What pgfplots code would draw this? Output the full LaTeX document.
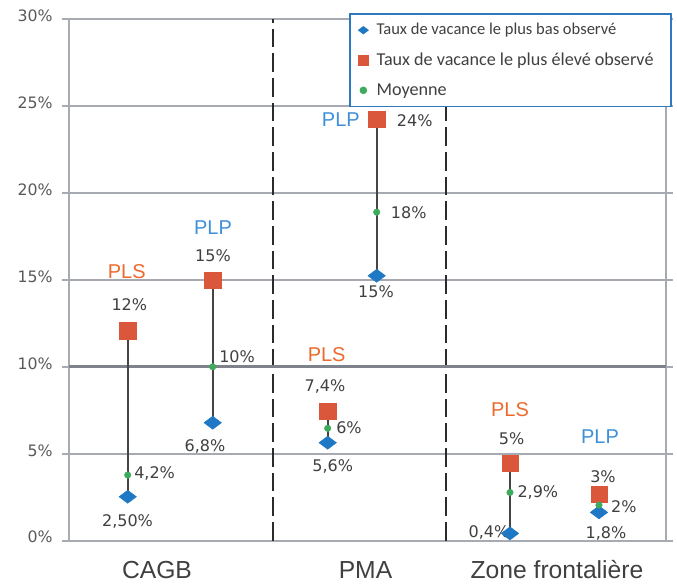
\documentclass[border=0pt]{standalone}
\usepackage{fontspec}
\setmainfont{DejaVu Sans}
\newfontfamily\arialf{Liberation Sans}
\newfontfamily\legf{Carlito}
\usepackage{pgfplots}
\pgfplotsset{compat=1.18}
\definecolor{gridc}{HTML}{A7AAB0}
\definecolor{gridten}{HTML}{7E838B}
\definecolor{sqc}{HTML}{DA573B}
\definecolor{dmc}{HTML}{1F78C3}
\definecolor{mnc}{HTML}{3DAA5C}
\definecolor{plsc}{HTML}{EC6A2C}
\definecolor{plpc}{HTML}{3F8FD9}
\definecolor{lblc}{HTML}{404040}
\definecolor{tickc}{HTML}{595959}
\definecolor{legc}{HTML}{2E78BE}
\definecolor{vlinec}{HTML}{2B2B2B}
\definecolor{segc}{HTML}{454545}
\begin{document}
\begin{tikzpicture}
\begin{axis}[
  scale only axis, width=447.5pt, height=390.9pt,
  xmin=69, xmax=665.7, ymin=0, ymax=30,
  axis line style={draw=gridc, line width=1.5pt},
  xtick={157,365.5,557}, xticklabels={CAGB,PMA,Zone frontalière},
  x tick label style={font=\arialf\fontsize{18.5}{20}\selectfont, text=lblc, anchor=base, inner sep=0pt, yshift=-23.5pt},
  major x tick style={draw=none},
  ytick={0,5,...,30},
  yticklabel={\pgfmathprintnumber{\tick}\%},
  y tick label style={font=\fontsize{11.8}{13}\selectfont, text=tickc, yshift=2.5pt, xshift=-3.5pt},
  y tick style={draw=gridc, line width=1.5pt},
  tick align=outside, major tick length=5.25pt,
  ymajorgrids, major grid style={draw=gridc, line width=1.5pt},
  extra x ticks={273,446}, extra x tick labels={},
  extra x tick style={grid=major, major grid style={draw=vlinec, line width=1.5pt, dash pattern=on 14pt off 4.5pt}, major tick length=0pt},
  extra y ticks={10}, extra y tick labels={},
  extra y tick style={grid=major, major grid style={draw=gridten, line width=2.2pt}},
  /pgf/number format/assume math mode=true,
  clip=false,
  legend style={at={(rel axis cs:1,1)}, anchor=north east, xshift=4.5pt, yshift=4.5pt,
    draw=legc, line width=1.2pt, fill=white, inner xsep=6.5pt, inner ysep=5pt,
    row sep=8pt, font=\legf\fontsize{13.6}{15}\selectfont, text=lblc,
    nodes={inner xsep=6.5pt}},
  legend cell align=left,
]
\coordinate (sw) at (rel axis cs:0,0);
\coordinate (ne) at (rel axis cs:1,1);

% connecting segments (high to low)
\addplot[segc, line width=1.4pt, forget plot] coordinates {(127.7,12.08) (127.7,2.52)};
\addplot[segc, line width=1.4pt, forget plot] coordinates {(212.7,14.96) (212.7,6.78)};
\addplot[segc, line width=1.4pt, forget plot] coordinates {(327.7,7.46) (327.7,5.63)};
\addplot[segc, line width=1.4pt, forget plot] coordinates {(376.7,24.25) (376.7,15.24)};
\addplot[segc, line width=1.4pt, forget plot] coordinates {(510,4.44) (510,0.41)};
\addplot[segc, line width=1.4pt, forget plot] coordinates {(599,2.66) (599,1.62)};

% labels
\begin{scope}[every node/.style={font=\fontsize{12}{14}\selectfont, text=lblc, inner sep=0pt}]
\node at (axis cs:129.3,13.60) {12\%};
\node[anchor=west] at (axis cs:134,3.83) {4,2\%};
\node at (axis cs:127.5,1.12) {2,50\%};
\node at (axis cs:213,16.38) {15\%};
\node[anchor=west] at (axis cs:219,10.56) {10\%};
\node at (axis cs:205,5.44) {6,8\%};
\node at (axis cs:325,8.85) {7,4\%};
\node[anchor=west] at (axis cs:336,6.49) {6\%};
\node at (axis cs:332.7,4.29) {5,6\%};
\node[anchor=west] at (axis cs:396.7,24.16) {24\%};
\node[anchor=west] at (axis cs:390.7,18.89) {18\%};
\node at (axis cs:376,14.32) {15\%};
\node at (axis cs:511.7,5.88) {5\%};
\node[anchor=west] at (axis cs:517.3,2.75) {2,9\%};
\node at (axis cs:489,0.49) {0,4\%};
\node at (axis cs:603,3.67) {3\%};
\node[anchor=west] at (axis cs:611,1.95) {2\%};
\node at (axis cs:606,0.41) {1,8\%};
\end{scope}
\begin{scope}[every node/.style={font=\arialf\fontsize{15}{17}\selectfont, inner sep=0pt}]
\node[text=plsc] at (axis cs:126.7,15.47) {PLS};
\node[text=plpc] at (axis cs:213,17.99) {PLP};
\node[text=plsc] at (axis cs:326.7,10.68) {PLS};
\node[text=plpc, anchor=east] at (axis cs:360,24.24) {PLP};
\node[text=plsc] at (axis cs:510,7.51) {PLS};
\node[text=plpc] at (axis cs:600,5.97) {PLP};
\end{scope}

% high (squares)
\addplot[only marks, mark=square*, mark size=6.1pt, mark options={draw=sqc, fill=sqc, line width=0.4pt}, forget plot]
  coordinates {(127.7,12.08) (212.7,14.96) (327.7,7.46) (376.7,24.25) (510,4.44) (599,2.66)};
% low (diamonds)
\addplot[only marks, mark=diamond*, mark size=6.5pt, mark options={rotate=90, draw=dmc, fill=dmc, line width=0.4pt}, forget plot]
  coordinates {(127.7,2.52) (212.7,6.78) (327.7,5.63) (376.7,15.24) (510,0.41) (599,1.62)};
% mean (circles)
\addplot[only marks, mark=*, mark size=2.5pt, mark options={draw=mnc, fill=mnc, line width=0.2pt}, forget plot]
  coordinates {(127.7,3.77) (212.7,10.0) (327.7,6.46) (376.7,18.9) (510,2.77) (599,2.04)};

\addlegendimage{only marks, mark=diamond*, mark size=3.2pt, mark options={rotate=90, draw=dmc, fill=dmc}}
\addlegendentry[font=\legf\fontsize{12.4}{14}\selectfont]{Taux de vacance le plus bas observé}
\addlegendimage{only marks, mark=square*, mark size=3.4pt, mark options={draw=sqc, fill=sqc}}
\addlegendentry{Taux de vacance le plus élevé observé}
\addlegendimage{only marks, mark=*, mark size=2.2pt, mark options={draw=mnc, fill=mnc}}
\addlegendentry{Moyenne}
\end{axis}
\pgfresetboundingbox
\path[use as bounding box] ([shift={(-51.75pt,-32.6pt)}]sw) rectangle ([shift={(8.5pt,14.5pt)}]ne);
\end{tikzpicture}
\end{document}
